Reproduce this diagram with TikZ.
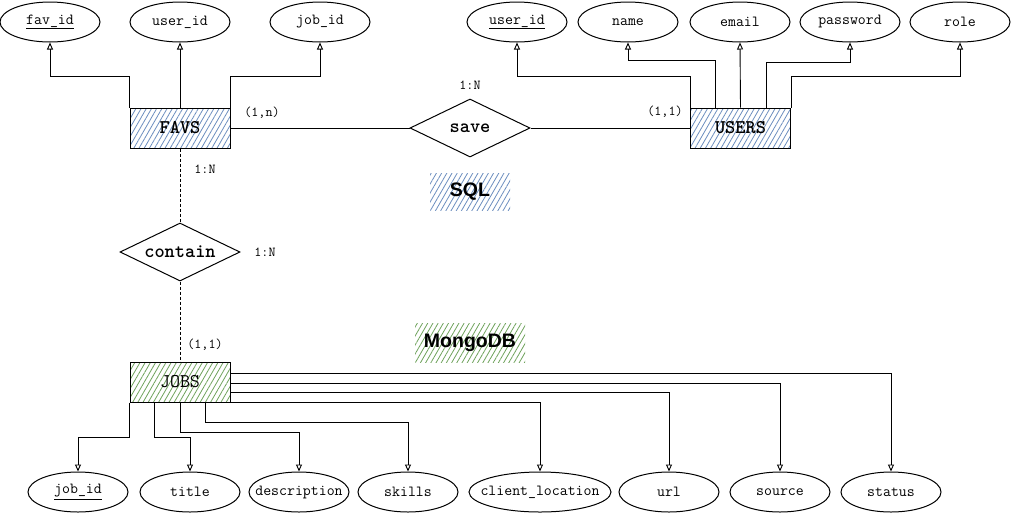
\documentclass[tikz,border=0pt]{standalone}
\usepackage{fontspec}
\setsansfont{Liberation Sans}
\usetikzlibrary{shapes.geometric,arrows.meta,patterns.meta}
\definecolor{hblue}{HTML}{6C8EBF}
\definecolor{hgreen}{HTML}{6FA35C}
\newcommand{\fx}[1]{\makebox[0pt]{#1}}
\tikzset{
  attr/.style={draw, line width=1pt, ellipse, minimum width=100pt, minimum height=40pt, inner sep=0pt, font=\fontsize{15.4}{16}\selectfont\ttfamily},
  entbox/.style={draw, line width=1pt, minimum width=100pt, minimum height=40pt, inner sep=0pt, font=\fontsize{19.4}{20}\selectfont\ttfamily},
  bluehatch/.style={pattern={Lines[angle=60,distance=4.5pt,line width=0.8pt]}, pattern color=hblue},
  greenhatch/.style={pattern={Lines[angle=60,distance=4.5pt,line width=0.8pt]}, pattern color=hgreen},
  relbox/.style={draw, line width=1pt, diamond, aspect=2.07, minimum width=120pt, minimum height=58pt, inner sep=0pt, font=\fontsize{19.4}{20}\selectfont\ttfamily\bfseries},
  arr/.style={line width=0.9pt, -{Triangle[open,length=7pt,width=6pt]}},
  conn/.style={line width=0.9pt},
  dconn/.style={line width=0.9pt, dash pattern=on 3pt off 2pt},
  card/.style={font=\fontsize{13.7}{14}\selectfont\ttfamily, inner sep=0pt},
  dblabel/.style={font=\fontsize{19.5}{20}\selectfont\sffamily\bfseries, inner sep=0pt}
}
\begin{document}
\begin{tikzpicture}[x=1pt,y=-1pt]
\useasboundingbox (0,0) rectangle (1011,515);
\fill[white] (0,0) rectangle (1011,515);

% database labels
\fill[bluehatch] (430,173) rectangle (510,210);
\node[dblabel] (sql) at (470,192) {SQL};
\fill[greenhatch] (415,323) rectangle (525,362);
\node[dblabel] (mongo) at (470,343) {MongoDB};

% entities
\node[entbox, bluehatch, font=\fontsize{19.4}{20}\selectfont\ttfamily\bfseries] (favs) at (180,128) {FAVS};
\node[entbox, bluehatch, font=\fontsize{19.4}{20}\selectfont\ttfamily\bfseries] (users) at (740.5,128) {USERS};
\node[entbox, greenhatch] (jobs) at (180,382) {JOBS};

% relationships
\node[relbox] (save) at (470,128) {\fx{save}};
\node[relbox] (contain) at (180,252) {\fx{contain}};

% FAVS attributes
\node[attr] (favid) at (50,22) {\fx{\underline{fav\_id}}};
\node[attr] (fuid) at (180,22) {\fx{user\_id}};
\node[attr] (fjid) at (320,22) {\fx{job\_id}};

% USERS attributes
\node[attr] (uid) at (517,22) {\fx{\underline{user\_id}}};
\node[attr] (uname) at (628,22) {\fx{name}};
\node[attr] (uemail) at (740,22) {\fx{email}};
\node[attr] (upass) at (850,22) {\fx{password}};
\node[attr] (urole) at (960,22) {\fx{role}};

% JOBS attributes
\node[attr] (jid) at (78,492) {\fx{\underline{job\_id}}};
\node[attr] (jtitle) at (190,492) {\fx{title}};
\node[attr] (jdesc) at (299,492) {\fx{description}};
\node[attr] (jskills) at (408,492) {\fx{skills}};
\node[attr, minimum width=142pt] (jcl) at (540,492) {\fx{client\_location}};
\node[attr] (jurl) at (669,492) {\fx{url}};
\node[attr] (jsrc) at (780,492) {\fx{source}};
\node[attr] (jstat) at (891,492) {\fx{status}};

% FAVS attribute connectors
\draw[arr] (favs.north west) -- (favs.north west |- 0,76) -| (favid.south);
\draw[arr] (favs.north) -- (fuid.south);
\draw[arr] (favs.north east) -- (favs.north east |- 0,76) -| (fjid.south);

% USERS attribute connectors
\draw[arr] (users.north west) -- (users.north west |- 0,76) -| (uid.south);
\draw[arr] ([xshift=25pt]users.north west) -- ([xshift=25pt]users.north west |- 0,60) -| (uname.south);
\draw[arr] (users.north) -- (uemail.south);
\draw[arr] ([xshift=-25pt]users.north east) -- ([xshift=-25pt]users.north east |- 0,62) -| (upass.south);
\draw[arr] (users.north east) -- (users.north east |- 0,76) -| (urole.south);

% relationship connectors
\draw[conn] (favs.east) -- (save.west);
\draw[conn] (save.east) -- (users.west);
\draw[dconn] (favs.south) -- (contain.north);
\draw[dconn] (contain.south) -- (jobs.north);

% JOBS attribute connectors
\draw[arr] (jobs.south west) -- (jobs.south west |- 0,437) -| (jid.north);
\draw[arr] ([xshift=25pt]jobs.south west) -- ([xshift=25pt]jobs.south west |- 0,437) -| (jtitle.north);
\draw[arr] (jobs.south) -- (jobs.south |- 0,432) -| (jdesc.north);
\draw[arr] ([xshift=-25pt]jobs.south east) -- ([xshift=-25pt]jobs.south east |- 0,422) -| (jskills.north);
\draw[arr] (jobs.south east) -| (jcl.north);
\draw[arr] (jobs.north east |- 0,392) -| (jurl.north);
\draw[arr] (jobs.north east |- 0,383) -| (jsrc.north);
\draw[arr] (jobs.north east |- 0,373) -| (jstat.north);

% cardinalities
\node[card] (c1) at (262,113) {(1,n)};
\node[card] (c2) at (665,112) {(1,1)};
\node[card] (c3) at (470,85) {1:N};
\node[card] (c4) at (205,169) {1:N};
\node[card] (c5) at (265,252) {1:N};
\node[card] (c6) at (205,345) {(1,1)};
\end{tikzpicture}
\end{document}
